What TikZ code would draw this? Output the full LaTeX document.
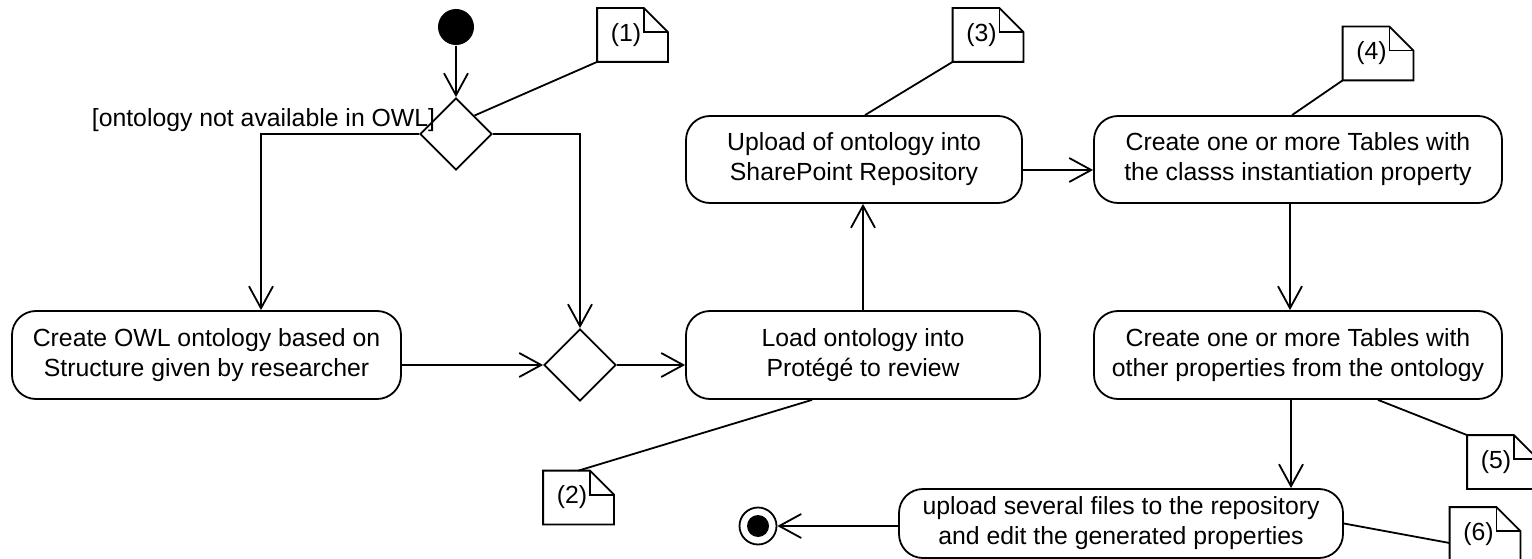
\documentclass[tikz,border=0pt]{standalone}
\usepackage{fontspec}
\setmainfont{Liberation Sans}
\usetikzlibrary{shapes.geometric,arrows.meta,calc}
\begin{document}
\begin{tikzpicture}[x=1pt,y=-1pt, line width=1.8pt,
  every node/.style={font=\fontsize{24.8pt}{30pt}\selectfont},
  act/.style={draw, rounded corners=24pt, align=center, inner sep=0pt},
  dec/.style={draw, diamond, minimum width=72pt, minimum height=72pt, inner sep=0pt},
  notebox/.style={minimum width=69pt, minimum height=52pt, inner sep=0pt},
  arr/.style={-{Straight Barb[length=22pt,width=24pt]}}]
\useasboundingbox (0,0) rectangle (1532,559);

% initial and final nodes
\node[circle, fill, minimum size=36pt, inner sep=0pt] (start) at (456,27) {};
\node[circle, draw, fill=white, minimum size=37pt, inner sep=0pt] (fin) at (758,526) {};
\fill (fin.center) circle (11pt);

% decisions
\node[dec] (d1) at (456,134) {};
\node[dec] (d2) at (580,365) {};

% activities
\node[act, minimum width=389pt, minimum height=88pt] (owl) at (206.5,355)
  {Create OWL ontology based on\\Structure given by researcher};
\node[act, minimum width=354pt, minimum height=88pt] (load) at (863,355)
  {Load ontology into\\Protégé to review};
\node[act, minimum width=336pt, minimum height=87pt] (upload) at (854,159.5)
  {Upload of ontology into\\SharePoint Repository};
\node[act, minimum width=408pt, minimum height=87pt] (tab1) at (1298,159.5)
  {Create one or more Tables with\\the classs instantiation property};
\node[act, minimum width=408pt, minimum height=88pt] (tab2) at (1298,355)
  {Create one or more Tables with\\other properties from the ontology};
\node[act, minimum width=444pt, minimum height=69pt] (files) at (1121,523.5)
  {upload several files to the repository\\and edit the generated properties};

% guard
\node (guard) at (263.5,120) {[ontology not available in OWL]};

% notes
\node[notebox] (n1) at (632.5,35) {(1)\hspace*{13pt}};
\node[notebox] (n2) at (578.5,497.5) {(2)\hspace*{13pt}};
\node[notebox] (n3) at (988,35) {(3)\hspace*{13pt}};
\node[notebox] (n4) at (1378,53.5) {(4)\hspace*{13pt}};
\node[notebox] (n5) at (1502.5,462) {(5)\hspace*{13pt}};
\node[notebox] (n6) at (1485,534) {(6)\hspace*{13pt}};
\foreach \n in {n1,n2,n3,n4,n5,n6}{
  \draw (\n.south west) -- (\n.north west) -- ([xshift=-24pt]\n.north east)
        -- ([yshift=-24pt]\n.north east) -- (\n.south east) -- cycle;
  \draw ([xshift=-24pt]\n.north east) |- ([yshift=-24pt]\n.north east);
}

% flows
\draw[arr] (start) -- (d1.north);
\draw[arr] (d1.west) -| ([xshift=54.5pt]owl.north);
\draw[arr] (d1.east) -| (d2.north);
\draw[arr] (owl.east |- d2.west) -- (d2.west);
\draw[arr] (d2.east) -- (load.west |- d2.east);
\draw[arr] (load.north) -- (load.north |- upload.south);
\draw[arr] ([yshift=-10.5pt]upload.east) -- ([yshift=-10.5pt]tab1.west);
\draw[arr] ([xshift=-8pt]tab1.south) -- ([xshift=-8pt]tab2.north);
\draw[arr] ([xshift=-7pt]tab2.south) -- ([xshift=-7pt]tab2.south |- files.north);
\draw[arr] (files.west |- fin.east) -- (fin.east);

% note links
\draw (n1.south west) -- (d1.north east);
\draw (n2.north) -- ([xshift=-51pt]load.south);
\draw (n3.south west) -- ([xshift=11pt]upload.north);
\draw (n4.south west) -- ([xshift=-6pt]tab1.north);
\draw (n5.north west) -- ([xshift=80pt]tab2.south);
\draw ([yshift=-9pt]n6.west) -- (files.east);
\end{tikzpicture}
\end{document}
